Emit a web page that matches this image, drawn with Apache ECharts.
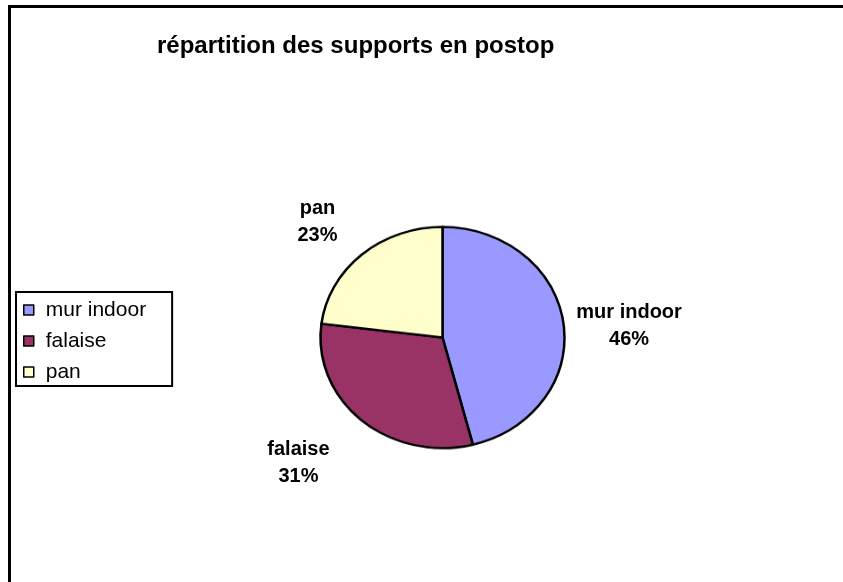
<!DOCTYPE html>
<html>
<head>
<meta charset="utf-8">
<script src="https://cdn.jsdelivr.net/npm/echarts@6/dist/echarts.min.js"></script>
<style>
  html, body { margin: 0; padding: 0; background: #fff; }
  #wrap { position: relative; width: 843px; height: 582px; overflow: hidden; }
  #base, #pie { position: absolute; left: 0; top: 0; width: 843px; height: 582px; }
  #pie { transform: scaleY(0.9065); transform-origin: 0 337.5px; pointer-events: none; }
</style>
</head>
<body>
<div id="wrap">
  <div id="base"></div>
  <div id="pie"></div>
</div>
<script>
// ---- data ----
const titleText = 'répartition des supports en postop';
const categories = ['mur indoor', 'falaise', 'pan'];
const values = [46, 31, 23];
const colors = ['#9999FF', '#993366', '#FFFFCC'];
// label nudges (px) relative to library placement
const labelNudgeX = [8, -25, -6];
const labelNudgeY = [11, -10, 20];

const seriesData = categories.map((c, i) => ({
  name: c,
  value: values[i],
  itemStyle: { color: colors[i] }
}));

const font = '"Liberation Sans", Arial, sans-serif';
const center = [442.5, 337.5];

// base layer: frame, title, legend, labels
const base = echarts.init(document.getElementById('base'), null, { renderer: 'canvas' });
base.setOption({
  backgroundColor: '#ffffff',
  animation: false,
  graphic: [{
    type: 'rect',
    shape: { x: 9.5, y: 6.5, width: 900, height: 700 },
    style: { fill: 'none', stroke: '#000', lineWidth: 3 },
    silent: true
  }],
  title: {
    text: titleText,
    left: 157,
    top: 34,
    padding: 0,
    textStyle: { fontFamily: font, fontSize: 24, fontWeight: 'bold', color: '#000' }
  },
  legend: {
    orient: 'vertical',
    left: 16,
    top: 292,
    padding: [7.5, 26, 3.5, 7],
    itemGap: 10,
    itemWidth: 10,
    itemHeight: 10,
    icon: 'rect',
    borderColor: '#000',
    borderWidth: 2,
    backgroundColor: '#fff',
    itemStyle: { borderColor: '#000', borderWidth: 1.5 },
    textStyle: { fontFamily: font, fontSize: 21, lineHeight: 21, color: '#000', padding: [0, 0, 0, 7] },
    data: categories
  },
  series: [{
    type: 'pie',
    center: center,
    radius: 100,
    startAngle: 90,
    clockwise: true,
    silent: true,
    itemStyle: { borderColor: '#000', borderWidth: 2 },
    label: {
      show: true,
      position: 'outside',
      distanceToLabelLine: 0,
      formatter: p => p.name + '\n' + Math.round(p.percent) + '%',
      fontFamily: font,
      fontSize: 20,
      fontWeight: 'bold',
      lineHeight: 27,
      color: '#000'
    },
    labelLine: { show: false, length: 80, length2: 0 },
    labelLayout: p => ({ align: 'center', verticalAlign: 'middle', dx: labelNudgeX[p.dataIndex], dy: labelNudgeY[p.dataIndex] }),
    emphasis: { disabled: true },
    data: seriesData
  }]
});

// pie layer, squashed vertically to the elliptical look of the original
const pie = echarts.init(document.getElementById('pie'), null, { renderer: 'canvas' });
pie.setOption({
  backgroundColor: 'transparent',
  animation: false,
  series: [{
    type: 'pie',
    center: center,
    radius: 122,
    startAngle: 90,
    clockwise: true,
    silent: true,
    label: { show: false },
    labelLine: { show: false },
    itemStyle: { borderColor: '#000', borderWidth: 2.5 },
    emphasis: { disabled: true },
    data: seriesData
  }]
});
</script>
</body>
</html>
